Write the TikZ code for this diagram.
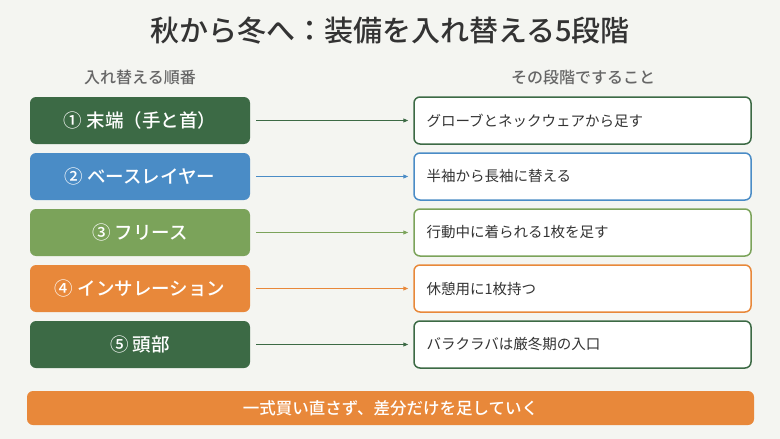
\documentclass[tikz,border=0pt]{standalone}
\usepackage{fontspec}
\setmainfont{Noto Sans CJK JP}
\newfontfamily\boldjp{Noto Sans CJK JP Medium}
\usetikzlibrary{arrows.meta,positioning}
\definecolor{bgcol}{HTML}{F4F5F1}
\definecolor{dgreen}{HTML}{3C6A45}
\definecolor{lblue}{HTML}{4A8CC6}
\definecolor{lgreen}{HTML}{7BA35A}
\definecolor{orng}{HTML}{E8883A}
\definecolor{txtgray}{HTML}{333333}
\definecolor{headgray}{HTML}{666666}

\begin{document}
\begin{tikzpicture}[x=1pt,y=-1pt,
  ordbox/.style={rounded corners=6pt,minimum width=220pt,minimum height=47pt,
    text=white,font=\boldjp\fontsize{18.5}{21}\selectfont},
  actbox/.style={draw,line width=1.5pt,fill=white,rounded corners=6pt,
    text width=312pt,inner sep=12.5pt,minimum height=47pt,align=left,
    text=txtgray,font=\fontsize{14.5}{17}\selectfont},
  headlbl/.style={text=headgray,font=\boldjp\fontsize{16}{18}\selectfont},
  link/.style={-{Triangle[length=5pt,width=4pt]},line width=1pt}]
\fill[bgcol] (0,0) rectangle (780,439);
\node[text=txtgray,font=\boldjp\fontsize{29}{32}\selectfont] (title) at (390,31) {秋から冬へ：装備を入れ替える5段階};
\node[headlbl] (hleft) at (140,77) {入れ替える順番};
\node[headlbl] (hright) at (583,77) {その段階ですること};
\foreach \i/\c/\l/\r in {1/dgreen/{① 末端（手と首）}/{グローブとネックウェアから足す},
  2/lblue/{② ベースレイヤー}/{半袖から長袖に替える},
  3/lgreen/{③ フリース}/{行動中に着られる1枚を足す},
  4/orng/{④ インサレーション}/{休憩用に1枚持つ},
  5/dgreen/{⑤ 頭部}/{バラクラバは厳冬期の入口}}{
  \node[ordbox,fill=\c] (ord\i) at (140,64.5+56*\i) {\l};
  \node[actbox,draw=\c] (act\i) at (582.5,64.5+56*\i) {\r};
  \draw[link,draw=\c,fill=\c,shorten <=6pt,shorten >=5pt] (ord\i) -- (act\i);
}
\node[fill=orng,rounded corners=6pt,minimum width=727pt,minimum height=34pt,
  text=white,font=\boldjp\fontsize{16.5}{19}\selectfont] (note) at (390.5,408) {一式買い直さず、差分だけを足していく};
\end{tikzpicture}
\end{document}
